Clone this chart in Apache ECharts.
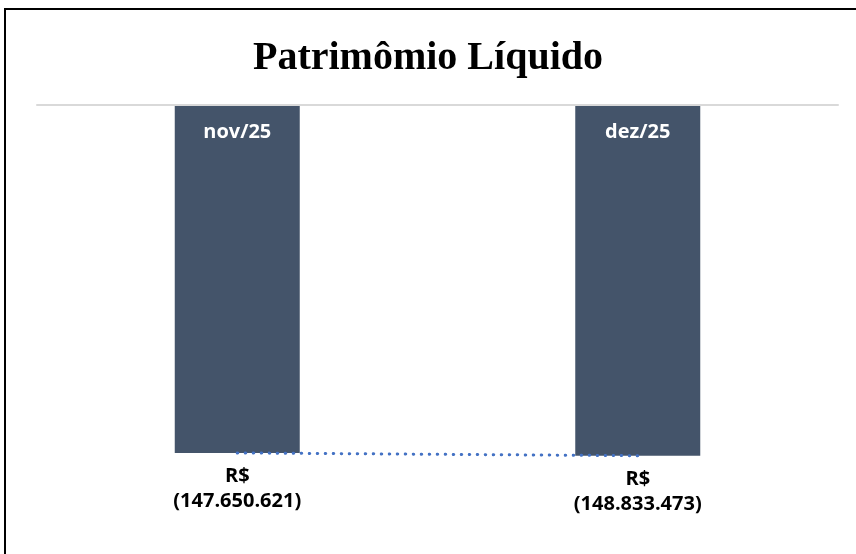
<!DOCTYPE html>
<html>
<head>
    <meta charset="utf-8">
    <title>Patrimônio Líquido</title>
    <script src="https://cdn.jsdelivr.net/npm/echarts@6/dist/echarts.min.js"></script>
    <style>
        html, body { margin: 0; padding: 0; background: #fff; }
        #main { width: 856px; height: 554px; }
    </style>
</head>
<body>
<div id="main"></div>
<script>
    var categorias = ['nov/25', 'dez/25'];
    var valores = [-147650621, -148833473];
    var tendencia = [-147650621, -148833473];

    // formata no padrão brasileiro, negativos entre parênteses
    function formata(v) {
        var s = Math.abs(v).toString().replace(/\B(?=(\d{3})+(?!\d))/g, '.');
        return v < 0 ? '(' + s + ')' : s;
    }

    var chart = echarts.init(document.getElementById('main'));
    var option = {
        backgroundColor: '#fff',
        animation: false,
        title: {
            text: 'Patrimômio Líquido',
            left: 'center',
            top: 34,
            textStyle: {
                fontFamily: 'Liberation Serif',
                fontWeight: 'bold',
                fontSize: 40,
                color: '#000'
            }
        },
        graphic: [{
            type: 'rect',
            shape: { x: 5, y: 9, width: 900, height: 600 },
            style: { fill: 'none', stroke: '#000', lineWidth: 2 },
            silent: true
        }],
        grid: { left: 37, right: 18, top: 105, height: 377 },
        xAxis: {
            type: 'category',
            position: 'top',
            data: categorias,
            z: 10,
            axisLine: { lineStyle: { color: '#d9d9d9', width: 2 } },
            axisTick: { show: false },
            axisLabel: {
                inside: true,
                margin: 17,
                color: '#fff',
                fontFamily: 'Open Sans',
                fontWeight: 'bold',
                fontSize: 20
            }
        },
        yAxis: {
            type: 'value',
            min: -160000000,
            max: 0,
            show: false,
            splitLine: { show: false }
        },
        series: [{
            type: 'bar',
            data: valores,
            barWidth: 125,
            itemStyle: { color: '#44546A' },
            label: {
                show: true,
                position: 'bottom',
                distance: 11,
                color: '#000',
                fontFamily: 'Open Sans',
                fontWeight: 'bold',
                fontSize: 20,
                lineHeight: 25,
                formatter: function (p) { return 'R$\n' + formata(p.value); }
            }
        }, {
            type: 'line',
            data: tendencia,
            symbol: 'none',
            z: 5,
            lineStyle: { color: '#4472C4', width: 3, type: [0.5, 7.5], cap: 'round' }
        }]
    };
    chart.setOption(option);
</script>
</body>
</html>
